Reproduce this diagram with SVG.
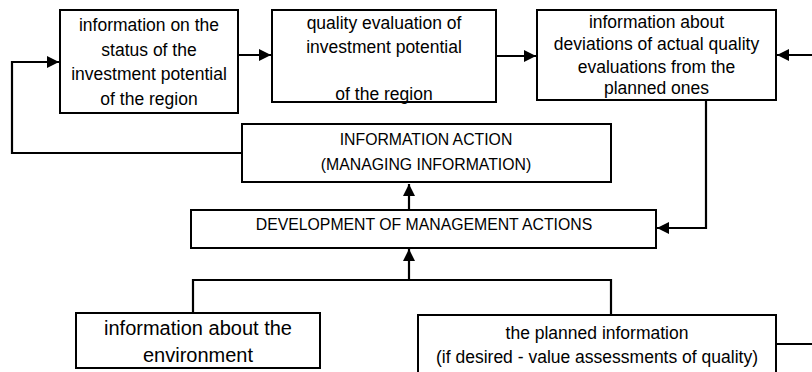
<svg xmlns="http://www.w3.org/2000/svg" width="812" height="372" viewBox="0 0 812 372">
  <defs>
    <marker id="arrow" viewBox="0 0 12 12" refX="12" refY="6" markerWidth="12" markerHeight="12" markerUnits="userSpaceOnUse" orient="auto">
      <path d="M0,0 L12,6 L0,12 Z" fill="#000"/>
    </marker>
  </defs>
  <style>
    .box { fill: #fff; stroke: #000; stroke-width: 2; }
    .t { font-family: "Liberation Sans", Arial, sans-serif; font-size: 17.5px; fill: #000; text-anchor: middle; }
    .caps { font-size: 15.8px; }
    .big { font-size: 20px; }
    .line { fill: none; stroke: #000; stroke-width: 2.2; }
  </style>
  <rect width="812" height="372" fill="#fff"/>

  <!-- connectors -->
  <g id="connectors">
    <line class="line" x1="238" y1="55" x2="271" y2="55" marker-end="url(#arrow)"/>
    <line class="line" x1="496" y1="56" x2="536" y2="56" marker-end="url(#arrow)"/>
    <line class="line" x1="812" y1="55" x2="777" y2="55" marker-end="url(#arrow)"/>
    <polyline class="line" points="242,153 12,153 12,62 59,62" marker-end="url(#arrow)"/>
    <polyline class="line" points="706,100 706,228 657,228" marker-end="url(#arrow)"/>
    <line class="line" x1="409" y1="210" x2="409" y2="184" marker-end="url(#arrow)"/>
    <line class="line" x1="409" y1="280" x2="409" y2="249" marker-end="url(#arrow)"/>
    <polyline class="line" points="193,312 193,280 611,280 611,314"/>
    <line class="line" x1="776" y1="344" x2="812" y2="344"/>
  </g>

  <g id="status">
    <rect class="box" x="60" y="10" width="178" height="103"/>
    <text class="t" x="149" y="31">information on the</text>
    <text class="t" x="149" y="55.5">status of the</text>
    <text class="t" x="149" y="80">investment potential</text>
    <text class="t" x="149" y="104.5">of the region</text>
  </g>

  <g id="evaluation">
    <rect class="box" x="272" y="10" width="224" height="92"/>
    <text class="t" x="384" y="28.5">quality evaluation of</text>
    <text class="t" x="384" y="53">investment potential</text>
    <text class="t" x="384" y="100">of the region</text>
  </g>

  <g id="deviations">
    <rect class="box" x="537" y="10" width="239" height="90"/>
    <text class="t" x="656.5" y="27.5">information about</text>
    <text class="t" x="656.5" y="50">deviations of actual quality</text>
    <text class="t" x="656.5" y="72.5">evaluations from the</text>
    <text class="t" x="656.5" y="94">planned ones</text>
  </g>

  <g id="information-action">
    <rect class="box" x="242" y="124" width="369" height="58"/>
    <text class="t caps" x="426" y="145">INFORMATION ACTION</text>
    <text class="t caps" x="426" y="170">(MANAGING INFORMATION)</text>
  </g>

  <g id="development">
    <rect class="box" x="191" y="210" width="465" height="38"/>
    <text class="t caps" x="424" y="230">DEVELOPMENT OF MANAGEMENT ACTIONS</text>
  </g>

  <g id="environment">
    <rect class="box" x="76" y="313" width="244" height="55"/>
    <text class="t big" x="198" y="335">information about the</text>
    <text class="t big" x="198" y="361.5">environment</text>
  </g>

  <g id="planned">
    <rect class="box" x="418" y="315" width="358" height="70"/>
    <text class="t" x="597" y="339">the planned information</text>
    <text class="t" x="597" y="363">(if desired - value assessments of quality)</text>
  </g>
</svg>
